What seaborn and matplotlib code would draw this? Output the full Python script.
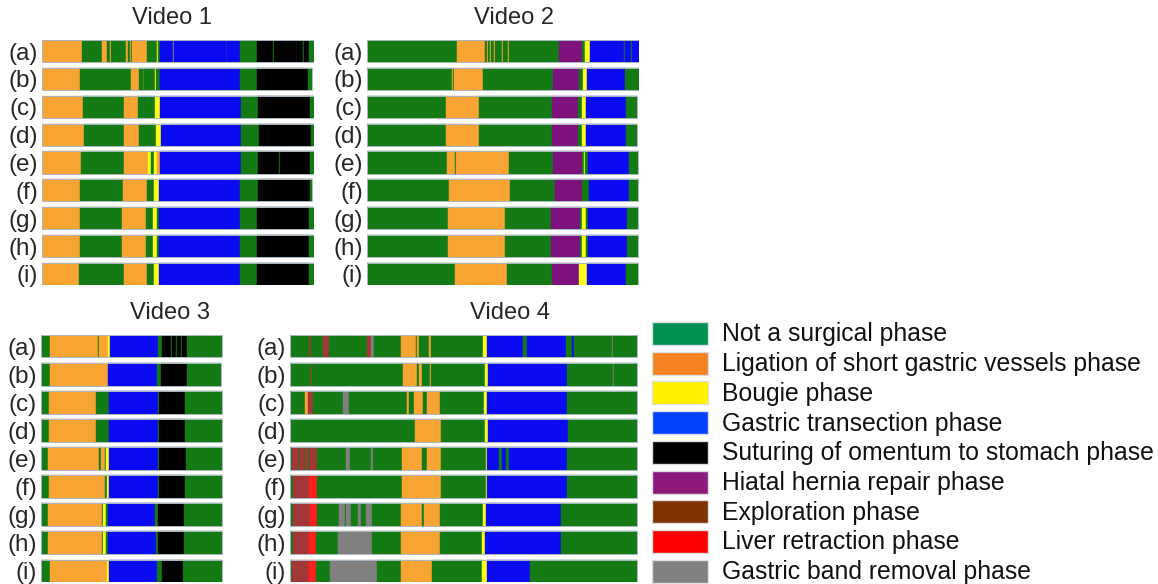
import matplotlib
matplotlib.use("Agg")
import matplotlib.pyplot as plt
from matplotlib.patches import Rectangle
import seaborn as sns

sns.set_theme(style="white")
plt.rcParams['font.family'] = ['Liberation Sans', 'DejaVu Sans']

# phase codes -> names
phase_codes = ["N", "L", "B", "T", "S", "H", "E", "R", "X"]
phase_names = ["Not a surgical phase", "Ligation of short gastric vessels phase",
               "Bougie phase", "Gastric transection phase",
               "Suturing of omentum to stomach phase", "Hiatal hernia repair phase",
               "Exploration phase", "Liver retraction phase", "Gastric band removal phase"]
# colours used in the ribbons and in the legend (they differ in the original)
bar_colors = ["#147b14", "#f8a432", "#ffff1a", "#0b0bf2", "#000000",
              "#7d127d", "#a33636", "#ff1f1f", "#808080"]
legend_colors = ["#009150", "#f58220", "#fff200", "#0042ff", "#000000",
                 "#8b1a7a", "#7e3300", "#ff0000", "#808080"]
row_labels = ["(a)", "(b)", "(c)", "(d)", "(e)", "(f)", "(g)", "(h)", "(i)"]

# each row: (phase, end position) pairs
video1 = [
    [("L", 40), ("N", 60), ("L", 65), ("N", 68), ("L", 69), ("N", 84), ("L", 85.5), ("N", 87.5),
     ("L", 89), ("N", 90), ("L", 105), ("N", 114.5), ("B", 115.5), ("N", 118.3), ("T", 131.2),
     ("X", 132), ("T", 184.6), ("X", 185.4), ("T", 198.3), ("N", 215), ("S", 231.3), ("N", 232),
     ("S", 254.6), ("N", 255.4), ("S", 261.3), ("N", 262), ("S", 266.7), ("N", 271.7)],
    [("L", 38.3), ("N", 89), ("L", 97.3), ("N", 101.5), ("B", 102.2), ("N", 113), ("B", 113.7),
     ("N", 117.7), ("T", 198.3), ("N", 215), ("S", 266), ("N", 270)],
    [("L", 41), ("N", 81.7), ("L", 96), ("N", 113.3), ("B", 117.7), ("T", 199), ("N", 216),
     ("S", 267.7), ("N", 271.7)],
    [("L", 41.7), ("N", 82.3), ("L", 97), ("N", 114), ("B", 119), ("T", 199.3), ("N", 216.7),
     ("S", 269), ("N", 271.7)],
    [("L", 39.3), ("N", 81.7), ("L", 106), ("B", 109), ("N", 112), ("B", 115), ("L", 117.7),
     ("T", 199), ("N", 216), ("S", 236.7), ("N", 237.7), ("S", 267.7), ("N", 271.7)],
    [("L", 38.3), ("N", 81), ("L", 105), ("N", 111.7), ("B", 117.3), ("T", 198.3), ("N", 215.7),
     ("S", 267.7), ("N", 270)],
    [("L", 38.3), ("N", 80), ("L", 104), ("N", 111), ("B", 115), ("N", 116.7), ("T", 198.3),
     ("N", 215), ("S", 266.7), ("N", 271.7)],
    [("L", 38.3), ("N", 80), ("L", 104), ("N", 111), ("B", 115), ("N", 116.7), ("T", 198.3),
     ("N", 215), ("S", 266.7), ("N", 271.7)],
    [("L", 36.7), ("N", 81.7), ("L", 105), ("N", 111.7), ("B", 117.3), ("T", 198.3), ("N", 215),
     ("S", 266.7), ("N", 271.7)],
]

video2 = [
    [("N", 90), ("L", 118.3), ("N", 119.5), ("L", 120.5), ("N", 123), ("L", 124), ("N", 126.5),
     ("L", 127.5), ("N", 134.5), ("L", 135.5), ("N", 141), ("L", 142), ("N", 191.7), ("H", 215),
     ("N", 218.3), ("B", 223.3), ("T", 256.7), ("N", 258.3), ("T", 264), ("N", 265.3), ("T", 271.7)],
    [("N", 84.5), ("L", 85.5), ("N", 86.7), ("L", 115.7), ("N", 185.7), ("H", 212.3), ("N", 216.3),
     ("B", 220.3), ("T", 258.3), ("N", 271.7)],
    [("N", 78.7), ("L", 112), ("N", 185.3), ("H", 211), ("N", 215.3), ("B", 219.3), ("T", 259.3),
     ("N", 270)],
    [("N", 78.7), ("L", 112), ("N", 185.3), ("H", 211), ("N", 215.3), ("B", 219.3), ("T", 259.3),
     ("N", 270)],
    [("L", 1), ("N", 80), ("L", 88), ("N", 89), ("L", 141.7), ("N", 186), ("H", 215.3),
     ("N", 216.5), ("B", 217.5), ("N", 221), ("T", 261.7), ("N", 271)],
    [("N", 81.7), ("L", 143.3), ("N", 187.7), ("H", 215.3), ("N", 221.7), ("T", 261.7), ("N", 271)],
    [("N", 81), ("L", 138.3), ("N", 184.3), ("H", 212.7), ("N", 215), ("B", 219.3), ("N", 221),
     ("T", 260), ("N", 271)],
    [("N", 81), ("L", 138.3), ("N", 184.3), ("H", 212.7), ("N", 215), ("B", 219.3), ("N", 221),
     ("T", 260), ("N", 271)],
    [("N", 88.3), ("L", 140), ("N", 185), ("H", 212), ("B", 220), ("T", 258.7), ("N", 271)],
]

video3 = [
    [("N", 9.3), ("L", 56.7), ("N", 58), ("L", 66.7), ("B", 69), ("T", 117.3), ("N", 121),
     ("S", 130), ("N", 131), ("S", 134.5), ("N", 135.5), ("S", 140), ("N", 141), ("S", 145.7),
     ("N", 181)],
    [("N", 9.3), ("L", 67.3), ("T", 115.7), ("N", 120), ("S", 145.7), ("N", 180)],
    [("N", 8.3), ("L", 55), ("N", 68.3), ("T", 117.3), ("N", 118.3), ("S", 144), ("N", 181)],
    [("N", 8.3), ("L", 55), ("N", 68.3), ("T", 117.3), ("N", 118.3), ("S", 144), ("N", 181)],
    [("N", 7.3), ("L", 58.3), ("N", 60), ("L", 64.3), ("N", 65.3), ("B", 68), ("T", 117.3),
     ("N", 118.3), ("S", 145), ("N", 181)],
    [("N", 7.7), ("L", 64), ("N", 66), ("B", 68.3), ("T", 117.3), ("N", 118.3), ("S", 144),
     ("N", 181)],
    [("N", 7.3), ("L", 60.7), ("N", 62.3), ("B", 65), ("N", 67.3), ("T", 114), ("N", 117.3),
     ("S", 143.3), ("N", 181)],
    [("N", 7.3), ("L", 60.7), ("N", 62.3), ("B", 65), ("N", 67.3), ("T", 115), ("N", 117.3),
     ("S", 143.3), ("N", 181)],
    [("N", 9), ("L", 66), ("B", 68.3), ("T", 115.7), ("N", 120.7), ("S", 141.7), ("N", 181)],
]

video4 = [
    [("N", 19), ("E", 21.3), ("N", 33.3), ("E", 39), ("N", 76.7), ("E", 81.3), ("X", 84),
     ("N", 111.3), ("L", 125.7), ("N", 127.3), ("L", 129), ("N", 139), ("L", 140.7), ("N", 193.3),
     ("B", 196.7), ("T", 233.3), ("N", 237.3), ("T", 275.7), ("N", 282.3), ("T", 284),
     ("N", 321.8), ("X", 322.8), ("N", 346.7)],
    [("N", 20.8), ("E", 21.8), ("N", 113.3), ("L", 127.3), ("N", 129), ("L", 131.7), ("N", 140.2),
     ("L", 141.2), ("N", 195.3), ("B", 198), ("T", 277.3), ("N", 322.8), ("X", 323.8), ("N", 346.7)],
    [("N", 15), ("L", 17.7), ("E", 22.7), ("N", 52.7), ("X", 59.3), ("N", 116.7), ("L", 119.3),
     ("N", 124), ("L", 133.3), ("N", 137.3), ("L", 150), ("N", 194.3), ("B", 197.3), ("T", 276.7),
     ("N", 347.3)],
    [("N", 125), ("L", 150.7), ("N", 195), ("B", 198.3), ("T", 278.3), ("N", 347.3)],
    [("N", 2), ("E", 9), ("N", 10), ("E", 14), ("N", 15), ("E", 18.7), ("N", 20), ("E", 27.3),
     ("N", 55.7), ("X", 59.7), ("N", 81.3), ("X", 83.3), ("N", 112.3), ("L", 131.7), ("N", 136.7),
     ("L", 151.3), ("N", 195.7), ("B", 197), ("T", 209), ("N", 212.3), ("T", 215.7), ("N", 219),
     ("T", 276.7), ("N", 346.7)],
    [("N", 3.3), ("E", 19), ("R", 27.3), ("N", 112.3), ("L", 151.3), ("N", 195.7), ("B", 197),
     ("T", 276.7), ("N", 346.7)],
    [("N", 3.3), ("E", 20), ("R", 27.3), ("N", 49), ("X", 55), ("N", 56.3), ("X", 60.7), ("N", 68),
     ("X", 70.7), ("N", 75.7), ("X", 82.3), ("N", 111.3), ("L", 132.3), ("N", 134), ("L", 149.7),
     ("N", 193), ("B", 196), ("T", 271.3), ("N", 346.7)],
    [("N", 3.3), ("E", 19), ("R", 25.7), ("N", 48), ("X", 81.7), ("N", 110.7), ("L", 149.7),
     ("N", 192.3), ("B", 195.3), ("T", 270.7), ("N", 346.7)],
    [("N", 2.3), ("E", 19), ("R", 26.3), ("N", 40), ("X", 87.3), ("N", 111.3), ("L", 142.3),
     ("N", 192), ("B", 196.7), ("T", 239.7), ("N", 346.7)],
]

W, H = 1158, 584
fig = plt.figure(figsize=(W / 100, H / 100), dpi=100)
color_of = dict(zip(phase_codes, bar_colors))


def px_axes(x, y_top, w, h):
    return fig.add_axes([x / W, 1 - (y_top + h) / H, w / W, h / H])


def draw_video(rows, x, y_top, width, height, title, title_x, title_y):
    ax = px_axes(x, y_top, width, height)
    for i, row in enumerate(rows):
        start = 0
        for code, end in row:
            ax.barh(i, end - start, left=start, height=0.8, color=color_of[code],
                    edgecolor=color_of[code], linewidth=0.3)
            start = end
        ax.add_patch(Rectangle((0, i - 0.4), row[-1][1], 0.8, fill=False,
                               edgecolor="#a9b8c2", linewidth=0.7))
    ax.set_xlim(0, width)
    ax.set_ylim(8.4, -0.4)
    ax.set_xticks([])
    ax.set_yticks(range(9), row_labels, fontsize=17.5)
    ax.tick_params(axis="y", length=0, pad=3)
    sns.despine(ax=ax, left=True, bottom=True)
    fig.text(title_x / W, 1 - title_y / H, title, fontsize=17, ha="center", va="center")
    return ax


draw_video(video1, 42, 40, 272, 245, "Video 1", 172, 18)
draw_video(video2, 367, 40, 272, 245, "Video 2", 514, 18)
draw_video(video3, 41, 335, 182, 247, "Video 3", 170, 313)
draw_video(video4, 290, 335, 348, 247, "Video 4", 510, 313)

# legend drawn by hand
lax = px_axes(640, 310, 518, 274)
lax.set_xlim(640, 1158)
lax.set_ylim(584, 310)
lax.axis("off")
for i, (name, col) in enumerate(zip(phase_names, legend_colors)):
    top = 322 + i * 29.7
    lax.add_patch(Rectangle((652, top), 56, 23, facecolor=col, edgecolor="#dddddd",
                            linewidth=1, clip_on=False))
    lax.text(722, top + 12.5, name, fontsize=17.8, va="center", ha="left", color="#111111")

fig.savefig("out.png", dpi=100)
